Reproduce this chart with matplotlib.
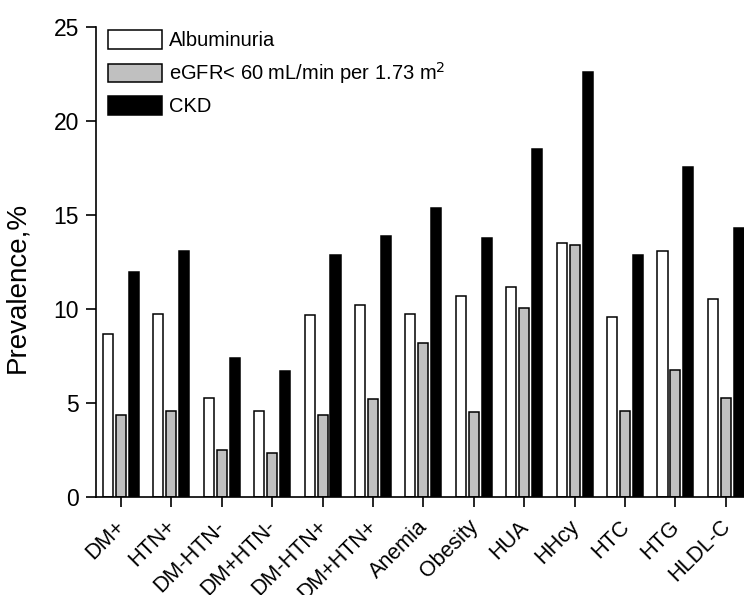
import matplotlib.pyplot as plt
import matplotlib.transforms as mtransforms
import numpy as np

plt.rcParams["font.family"] = ["Liberation Sans", "DejaVu Sans"]

categories = ["DM+", "HTN+", "DM-HTN-", "DM+HTN-", "DM-HTN+", "DM+HTN+",
              "Anemia", "Obesity", "HUA", "HHcy", "HTC", "HTG", "HLDL-C"]
albuminuria = [8.65, 9.73, 5.27, 4.54, 9.68, 10.18, 9.73, 10.68, 11.17, 13.48, 9.56, 13.05, 10.53]
egfr_low = [4.35, 4.56, 2.47, 2.34, 4.35, 5.18, 8.16, 4.49, 10.04, 13.37, 4.56, 6.76, 5.27]
ckd = [11.97, 13.07, 7.38, 6.67, 12.86, 13.88, 15.37, 13.78, 18.48, 22.59, 12.87, 17.55, 14.28]

x = np.arange(len(categories))
width = 0.2
step = 0.257

fig = plt.figure(figsize=(7.44, 5.95), dpi=100)
ax = fig.add_axes([95.7 / 744, 98.3 / 595, (744 - 95.7) / 744, 470 / 595])

ax.bar(x - step, albuminuria, width, color="white", edgecolor="black",
       linewidth=1.1, label="Albuminuria")
ax.bar(x, egfr_low, width, color="#c0c0c0", edgecolor="black",
       linewidth=1.1, label="eGFR< 60 mL/min per 1.73 m$^2$")
ax.bar(x + step, ckd, width, color="black", edgecolor="black",
       linewidth=1.1, label="CKD")

ax.set_xlim(-0.5, 12.36)
ax.set_ylim(0, 25)
ax.set_yticks([0, 5, 10, 15, 20, 25])
ax.set_xticks(x)
ax.set_xticklabels(categories, rotation=45, ha="right", fontsize=15.5)

for side in ["top", "right"]:
    ax.spines[side].set_visible(False)
for side in ["left", "bottom"]:
    ax.spines[side].set_linewidth(1.2)

ax.tick_params(axis="both", direction="out", length=7, width=1.2, pad=5)
ax.tick_params(axis="y", labelsize=16.5)
ax.tick_params(axis="x", pad=7)

# nudge rotated labels so their ends sit under the ticks
shift = mtransforms.ScaledTranslation(0.085, 0, fig.dpi_scale_trans)
for lab in ax.get_xticklabels():
    lab.set_transform(lab.get_transform() + shift)

ax.set_ylabel("Prevalence,%", fontsize=20)
ax.yaxis.set_label_coords(-0.101, 0.445)

ax.legend(loc="upper left", bbox_to_anchor=(108 / 744, 1 - 30 / 595),
          bbox_transform=fig.transFigure, frameon=False, fontsize=14.5,
          handlelength=2.7, handleheight=1.05, handletextpad=0.35,
          labelspacing=0.5, borderpad=0, borderaxespad=0)

fig.savefig("out.png", dpi=100)
